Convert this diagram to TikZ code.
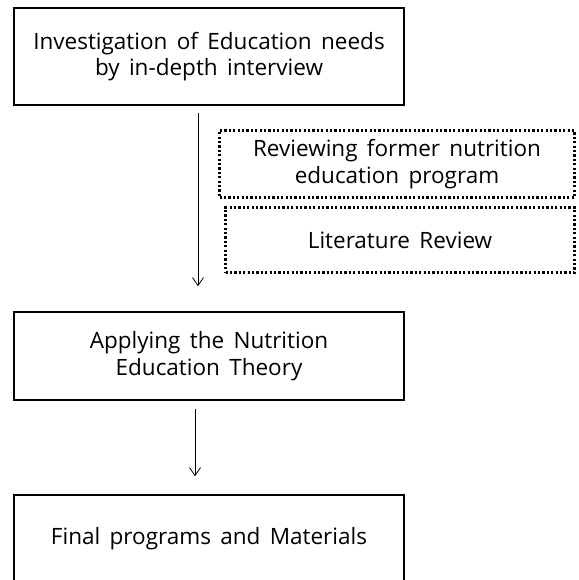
\documentclass[tikz,border=0pt]{standalone}
\usepackage{fontspec}
\setmainfont{Open Sans}[WordSpace=1.6]
\usetikzlibrary{arrows.meta}

\begin{document}
\begin{tikzpicture}[x=1pt, y=-1pt,
  stage/.style={rectangle, draw=black, line width=1.5pt, minimum width=390pt, align=center, font=\fontsize{22.5}{26.5}\selectfont},
  review/.style={rectangle, draw=black, line width=2.2pt, dash pattern=on 2.2pt off 2.2pt, align=center, font=\fontsize{22.5}{26.5}\selectfont},
  flow/.style={-{Straight Barb[length=8pt,width=11pt]}, line width=0.8pt}]
\useasboundingbox (0,0) rectangle (578,580);
\clip (0,0) rectangle (578,580);

\node[stage, minimum height=97pt] (needs) at (209,56.5) {Investigation of Education needs\\by in-depth interview};
\node[review, minimum width=355pt, minimum height=67pt] (former) at (397,164) {Reviewing former nutrition\\education program};
\node[review, minimum width=349pt, minimum height=65pt] (lit) at (400,240) {Literature Review};
\node[stage, minimum height=88pt] (theory) at (209,356) {Applying the Nutrition\\Education Theory};
\node[stage, minimum height=88pt] (final) at (209,539) {Final programs and Materials};

\draw[flow, shorten <=7pt, shorten >=25pt] ([xshift=-11pt]needs.south) -- ([xshift=-11pt]theory.north);
\draw[flow, shorten <=8pt, shorten >=18pt] ([xshift=-14pt]theory.south) -- ([xshift=-14pt]final.north);
\end{tikzpicture}
\end{document}
